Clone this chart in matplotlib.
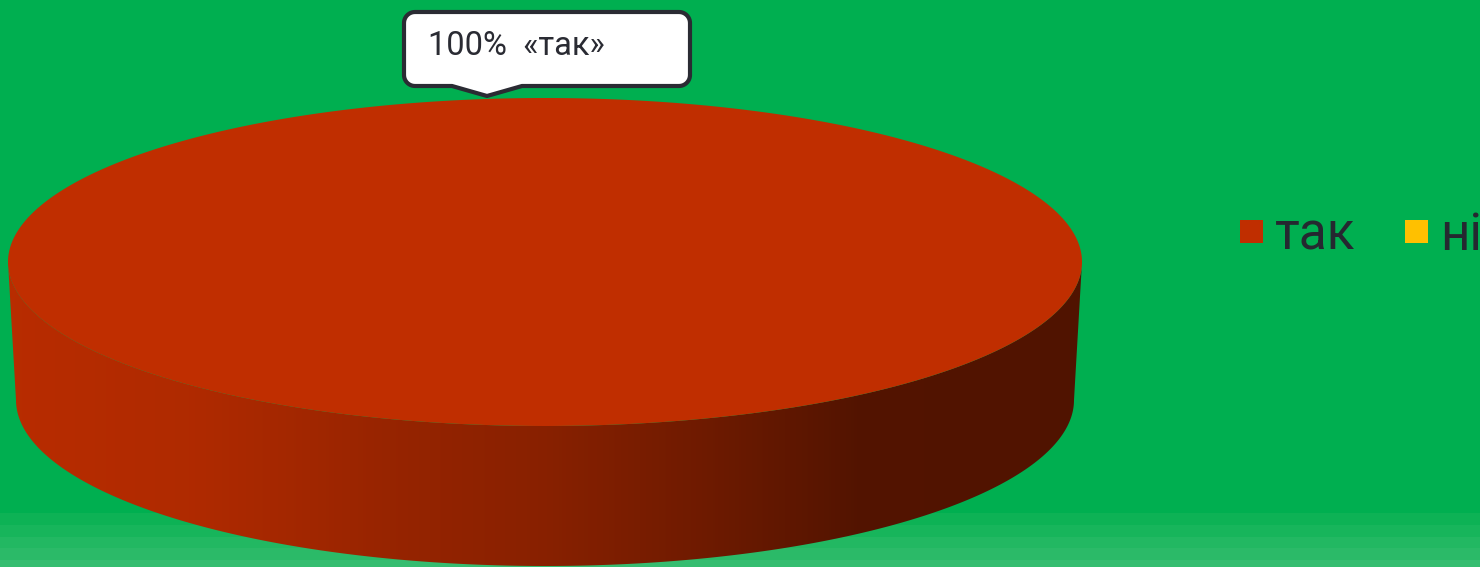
import numpy as np
import matplotlib
matplotlib.use('Agg')
import matplotlib.pyplot as plt
from matplotlib.patches import Polygon, Rectangle
from matplotlib import font_manager

# ---- data ----
categories = ['так', 'ні']
values = [100, 0]
colors = ['#C02E00', '#FFC000']
callout_text = '100%  «так»'

installed = {f.name for f in font_manager.fontManager.ttflist}
legend_family = 'Liberation Sans Narrow' if 'Liberation Sans Narrow' in installed else 'Roboto'

W, H = 1480, 567
fig = plt.figure(figsize=(14.8, 5.67), dpi=100)
fig.patch.set_facecolor('#00AF50')
ax = fig.add_axes([0, 0, 1, 1])
ax.set_facecolor('#00AF50')

# bottom stripes
stripe_cols = ['#0DB255', '#17B55B', '#22B862', '#2BBA68', '#35BD70']
stripe_y = [513, 525, 537, 548, 560, 568]
for i, c in enumerate(stripe_cols):
    ax.add_patch(Rectangle((0, stripe_y[i]), W, stripe_y[i + 1] - stripe_y[i],
                           facecolor=c, edgecolor='none', zorder=0))

# ---- 3D pie geometry ----
cx, cy = 545, 262
a, b = 537, 164
cyb, ab, bb = 400, 529, 166

total = float(sum(values))
fracs = [v / total for v in values]
start = 0.0

def side_shade(x):
    stops_x = [8, 200, 400, 545, 700, 860, 1082]
    stops_f = [0.96, 0.91, 0.78, 0.71, 0.58, 0.43, 0.42]
    return np.interp(x, stops_x, stops_f)

for frac, col in zip(fracs, colors):
    if frac <= 0:
        continue
    t0 = 2 * np.pi * start
    t1 = 2 * np.pi * (start + frac)
    start += frac
    lo, hi = max(t0, 0.0), min(t1, np.pi)
    if hi > lo:
        t = np.linspace(lo, hi, 300)
        top_arc = np.column_stack([cx + a * np.cos(t), cy + b * np.sin(t)])
        bot_arc = np.column_stack([cx + ab * np.cos(t), cyb + bb * np.sin(t)])
        side_xy = np.vstack([top_arc, bot_arc[::-1]])
        side_patch = Polygon(side_xy, closed=True, facecolor='none', edgecolor='none', zorder=2)
        ax.add_patch(side_patch)
        xs = np.linspace(cx - a, cx + a, 600)
        base = np.array(matplotlib.colors.to_rgb(col))
        f = side_shade(xs)
        grad = np.clip((f[:, None] * base[None, :])[None, :, :], 0, 1)
        im = ax.imshow(grad, extent=(cx - a, cx + a, cyb + bb + 2, cy - 2),
                       aspect='auto', interpolation='bilinear', zorder=2)
        im.set_clip_path(side_patch)
    t = np.linspace(t0, t1, 720)
    arc = np.column_stack([cx + a * np.cos(t), cy + b * np.sin(t)])
    if frac < 1:
        arc = np.vstack([[cx, cy], arc])
    ax.add_patch(Polygon(arc, closed=True, facecolor=col, edgecolor='none', zorder=3))

# ---- callout ----
x0, x1, y0, y1, r = 404, 690, 12, 86, 11
px_l, px_tip, px_r, py_tip = 452, 487, 522, 96
verts = []
def corner(cxr, cyr, a0, a1):
    for ang in np.linspace(a0, a1, 12):
        verts.append((cxr + r * np.cos(ang), cyr + r * np.sin(ang)))
corner(x0 + r, y0 + r, np.pi, 1.5 * np.pi)
corner(x1 - r, y0 + r, 1.5 * np.pi, 2 * np.pi)
corner(x1 - r, y1 - r, 0, 0.5 * np.pi)
verts += [(px_r, y1), (px_tip, py_tip), (px_l, y1)]
corner(x0 + r, y1 - r, 0.5 * np.pi, np.pi)
ax.add_patch(Polygon(verts, closed=True, facecolor='white', edgecolor='#2A2B33',
                     linewidth=3.0, joinstyle='round', zorder=5))
ax.text(428, 55, callout_text, fontsize=23.5, family='Roboto',
        color='#2A2B33', va='baseline', ha='left', zorder=6)

# ---- legend ----
leg_x = [1240, 1405]
leg_size = 41 if legend_family == 'Liberation Sans Narrow' else 37
for i, (cat, col) in enumerate(zip(categories, colors)):
    ax.add_patch(Rectangle((leg_x[i], 220), 23, 23, facecolor=col, edgecolor='none', zorder=4))
    ax.text(leg_x[i] + 35, 250, cat, fontsize=leg_size, family=legend_family,
            color='#252830', va='baseline', ha='left', zorder=4)

ax.set_xlim(0, W)
ax.set_ylim(H, 0)
ax.axis('off')
fig.savefig('out.png', dpi=100, facecolor=fig.get_facecolor())
